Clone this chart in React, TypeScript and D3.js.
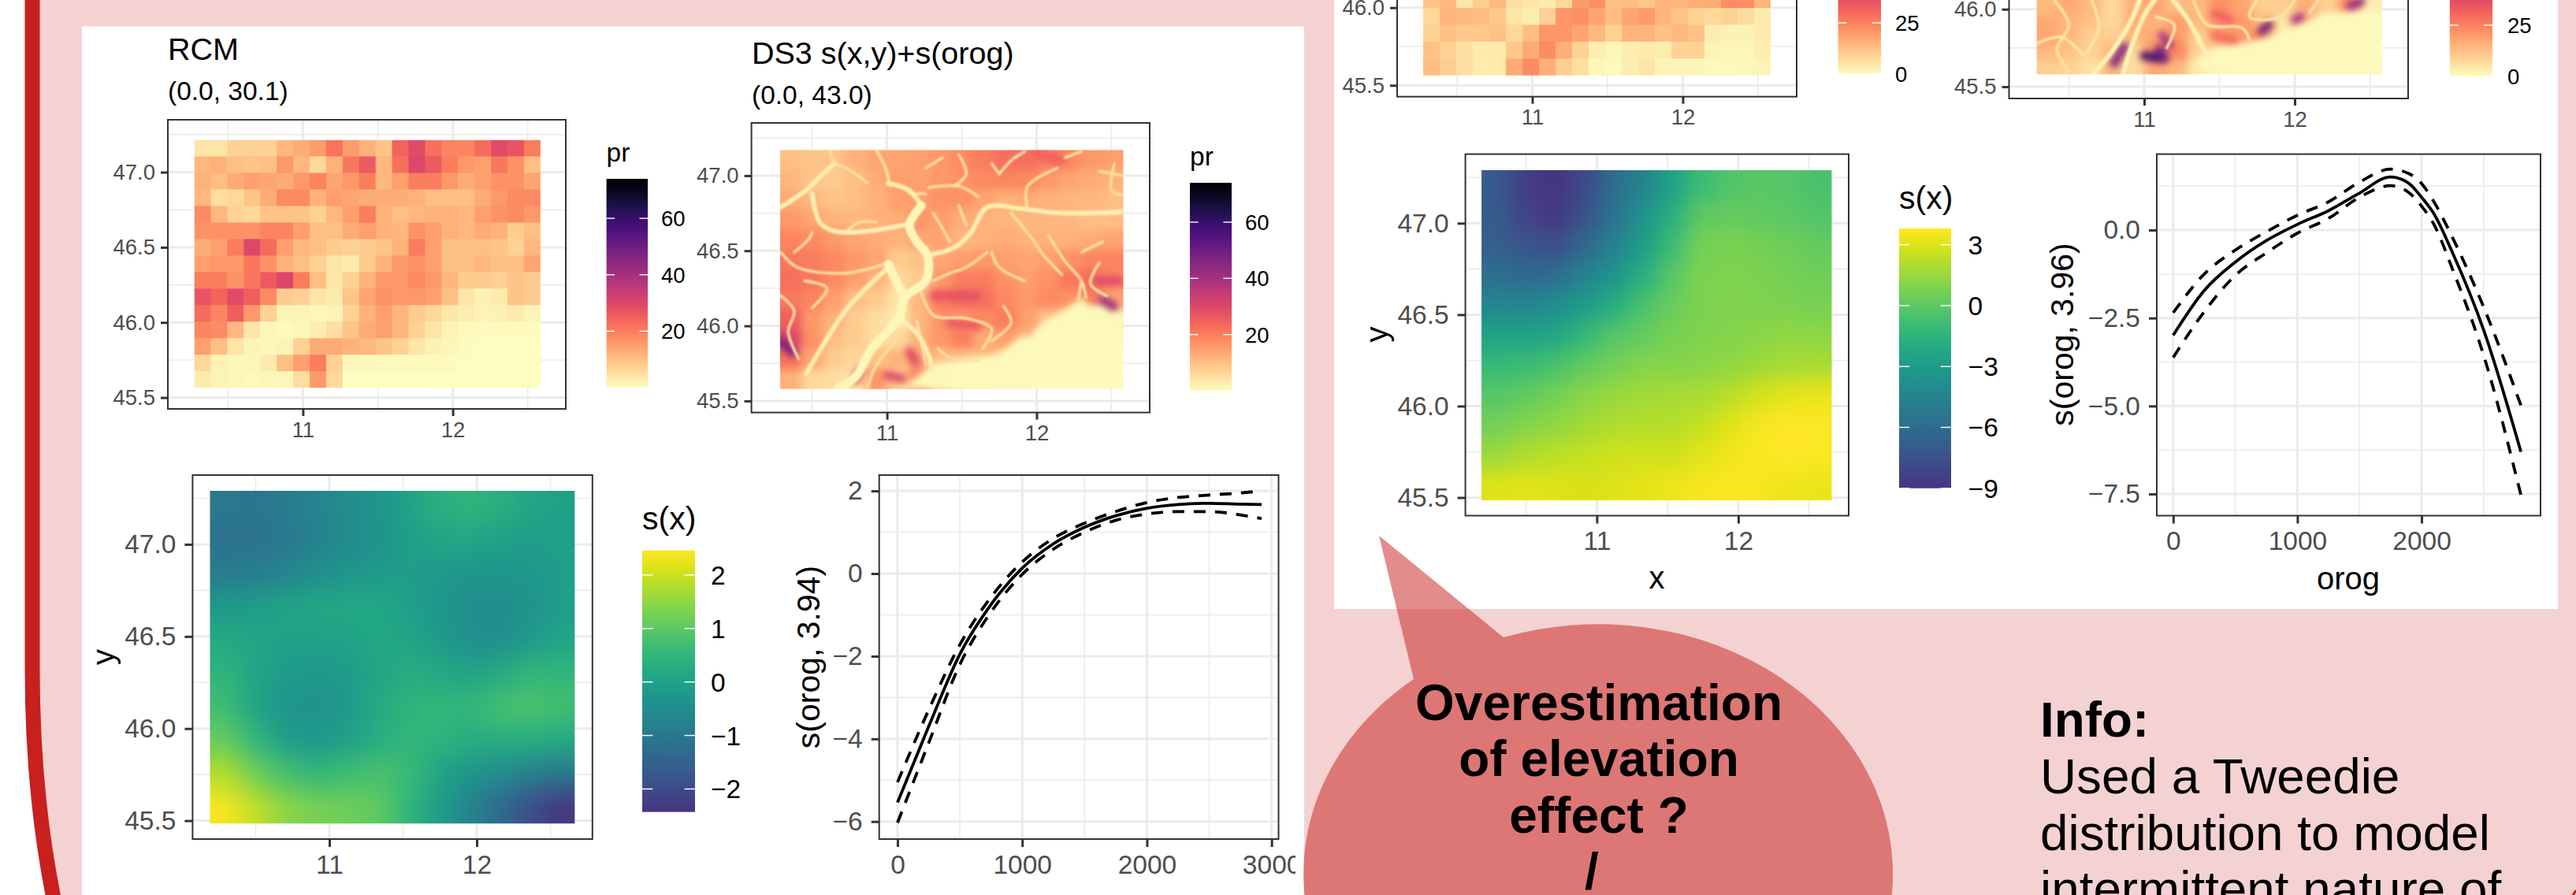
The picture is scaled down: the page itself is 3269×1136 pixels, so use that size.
import * as d3 from "d3";
import { useEffect, useRef } from "react";

const FONT = "'Liberation Sans', Arial, sans-serif";
const INK = "#4d4d4d";

// RCM precipitation cells, north to south, 21 columns
const rcmLeft = [
    [4, 4, 7, 7, 7, 11, 13, 15.5, 21.5, 15.5, 12, 9, 24, 29, 22, 19, 19, 23, 29, 27, 20],
    [11, 12, 10, 9, 10, 16, 11, 6, 12, 21, 26, 11, 22, 30, 26, 20, 16, 15, 21, 17, 10],
    [12, 10, 13, 15, 14, 13, 16, 19, 14, 16, 20, 11, 15, 20, 20, 16, 13, 15, 17, 17, 14],
    [11, 5, 6, 9, 13, 18, 18, 12, 15, 14, 13, 13, 13, 12, 10, 10, 10, 13, 16, 18, 18],
    [18, 11, 7, 6, 9, 9, 9, 7, 11, 15, 20, 12, 10, 11, 12, 12, 11, 15, 17, 18, 16],
    [17, 17, 17, 17, 19, 19, 15, 10, 10, 13, 15, 12, 11, 17, 15, 12, 11, 13, 12, 8, 10],
    [13, 15, 20, 30, 23, 15, 11, 10, 8, 7, 8, 9, 12, 20, 15, 10, 10, 10, 9, 7, 11],
    [15, 16, 16, 21, 17, 12, 10, 7, 4, 3, 8, 12, 16, 17, 15, 10, 10, 11, 10, 10, 14],
    [20, 20, 17, 21, 26, 30, 20, 10, 4, 7, 12, 16, 16, 18, 16, 11, 8, 8, 7, 9, 8],
    [27, 24, 29, 25, 18, 8, 7, 4, 3, 9, 14, 17, 16, 16, 15, 10, 4, 2, 3, 9, 8],
    [23, 19, 25, 16, 7, 1.5, 1.5, 1, 1.5, 7, 12, 15, 11, 8, 6, 3.5, 2.5, 1.5, 2, 3, 1.5],
    [19, 18, 11, 4, 1, 0.5, 1, 2.5, 5, 9, 13, 15, 11, 7, 4, 1.5, 0.8, 0.5, 0.5, 0.5, 0.5],
    [15, 10, 4, 1.5, 1, 1.5, 7, 13, 13, 12, 11, 9, 7, 4, 2, 1, 0.3, 0.2, 0.2, 0.2, 0.2],
    [6, 2, 1, 1, 3, 10, 15, 20, 7, 1, 1, 0.7, 0.5, 0.5, 0.3, 0.3, 0.2, 0.2, 0.2, 0.2, 0.2],
    [3, 1.5, 1, 0.5, 1, 1, 5, 16, 6, 0.2, 0.2, 0.2, 0.1, 0.1, 0.1, 0.1, 0.1, 0.1, 0.1, 0.1, 0.1],
];

// only the bottom rows of the top right RCM map are on the page
const rcmRight = [
    [12, 14, 5, 10, 14, 6, 5, 4, 8, 20, 22, 12, 13, 11, 15, 15, 16, 17, 23, 23, 15],
    [8, 15, 14, 13, 11, 5, 3, 9, 21, 22, 18, 13, 18, 20, 15, 12, 9, 8, 9, 7, 4],
    [9, 12, 11, 11, 12, 8, 13, 21, 21, 18, 14, 9, 15, 15, 12, 14, 12, 3, 2.5, 2.5, 4],
    [12, 9, 6, 4, 4, 11, 17, 23, 16, 9, 3, 1.5, 3, 4, 3.5, 9, 9, 2, 1.5, 1.5, 3],
    [13, 10, 6, 3.5, 4, 17, 23, 16, 10, 6, 1.5, 1, 3, 5, 2, 2, 2, 1, 1, 1.5, 2],
];

// DS3 maps, coarse read of the field between the valleys
const ds3Left = [
    [10, 9, 9, 12, 14, 14, 15, 16, 18, 20, 22, 22, 20, 18, 16, 15],
    [11, 9, 8, 10, 13, 15, 15, 16, 17, 18, 19, 18, 16, 14, 13, 12],
    [13, 11, 9, 10, 12, 15, 15, 17, 17, 14, 12, 13, 12, 11, 11, 10],
    [16, 14, 12, 11, 12, 13, 16, 15, 13, 12, 11, 11, 11, 11, 10, 10],
    [19, 18, 16, 14, 13, 12, 14, 14, 11, 12, 13, 12, 12, 12, 13, 14],
    [21, 20, 18, 16, 14, 8, 9, 14, 15, 16, 15, 14, 15, 17, 19, 19],
    [22, 21, 18, 15, 12, 6, 8, 16, 20, 20, 17, 15, 17, 21, 22, 19],
    [21, 19, 15, 10, 8, 4, 11, 20, 23, 22, 18, 16, 18, 17, 20, 14],
    [25, 16, 12, 8, 5, 3, 11, 17, 16, 18, 20, 15, 9, 7, 6, 3],
    [30, 17, 10, 8, 5, 6, 12, 16, 20, 13, 15, 12, 3, 2, 1, 0.5],
    [22, 14, 8, 6, 10, 12, 14, 10, 9, 12, 8, 1.5, 0.5, 0.3, 0.2, 0.2],
    [12, 6, 5, 4, 16, 8, 20, 8, 2, 1, 0.5, 0.3, 0.2, 0.2, 0.2, 0.2],
];

const ds3Right = [
    [14, 17, 14, 8, 15, 18, 13, 14, 22, 18, 10, 10, 16, 9, 22, 3],
    [17, 15, 12, 8, 16, 15, 20, 14, 20, 20, 14, 5, 12, 2, 2, 1],
    [18, 14, 10, 10, 14, 18, 20, 10, 18, 20, 24, 4, 1, 1, 1, 1],
    [14, 12, 9, 14, 8, 24, 24, 9, 5, 4, 2, 2, 2, 1, 1, 1],
    [10, 9, 6, 14, 7, 18, 14, 4, 2, 1, 1, 1, 1, 1, 1, 1],
];

const trunkValleys = [
    [[11.23, 46.8], [11.15, 46.67], [11.2, 46.56], [11.27, 46.47], [11.26, 46.3], [11.12, 46.19], [11.08, 46.05], [10.9, 45.85], [10.79, 45.66], [10.68, 45.59]],
    [[11.01, 46.41], [11.08, 46.26], [11.12, 46.19]],
];

const riverValleys = [
    [[10.5, 46.88], [10.55, 46.69], [10.65, 46.63], [10.87, 46.63], [11.15, 46.68]],
    [[11.27, 46.47], [11.45, 46.52], [11.56, 46.62], [11.67, 46.79], [11.89, 46.78], [12.17, 46.75], [12.58, 46.76]],
    [[11.23, 46.8], [11.15, 46.9], [11.01, 46.95]],
    [[10.29, 46.79], [10.37, 46.84], [10.48, 46.92], [10.57, 47.01], [10.65, 47.08]],
    [[10.46, 45.68], [10.73, 46.11], [11.01, 46.39]],
    [[11.08, 46.05], [11.2, 45.95], [11.28, 45.8], [11.3, 45.7]],
];

const branchValleys = [
    [[10.62, 47.17], [10.65, 47.08], [10.73, 47.05], [10.87, 46.95]],
    [[10.93, 47.17], [10.99, 47.05], [11.02, 46.93]],
    [[10.73, 46.63], [10.82, 46.69], [10.93, 46.69]],
    [[10.38, 46.49], [10.48, 46.58], [10.5, 46.62]],
    [[11.26, 46.88], [11.15, 46.88]],
    [[11.28, 46.92], [11.48, 46.93], [11.61, 46.86]],
    [[11.45, 46.93], [11.53, 47.01], [11.48, 47.14]],
    [[11.26, 47.05], [11.37, 47.12]],
    [[11.75, 47.01], [11.83, 47.1], [11.92, 47.16]],
    [[11.75, 47.01], [11.7, 47.08]],
    [[11.94, 46.77], [11.94, 46.93], [12.14, 47.05]],
    [[12.3, 47.16], [12.19, 47.12]],
    [[12.58, 47], [12.42, 47.03]],
    [[12.58, 46.87], [12.5, 46.9], [12.52, 47.08]],
    [[11.31, 46.75], [11.37, 46.65], [11.42, 46.56]],
    [[11.48, 46.8], [11.53, 46.67]],
    [[11.83, 46.75], [11.97, 46.58], [12.03, 46.49], [12.17, 46.34]],
    [[12.08, 46.6], [12.19, 46.43], [12.3, 46.3], [12.33, 46.19]],
    [[12.3, 46.49], [12.44, 46.56]],
    [[11.67, 46.49], [11.53, 46.39], [11.42, 46.35], [11.31, 46.3]],
    [[11.92, 46.3], [11.75, 46.39], [11.7, 46.49]],
    [[11.23, 46.22], [11.31, 46.07], [11.53, 46.05], [11.7, 45.98], [11.64, 45.85]],
    [[11.78, 46.13], [11.83, 46.02], [11.7, 45.9]],
    [[10.29, 46.49], [10.4, 46.39], [10.71, 46.35], [10.98, 46.41]],
    [[10.29, 46.2], [10.38, 46.1], [10.34, 45.96], [10.41, 45.78]],
    [[10.98, 45.92], [11.09, 46.05]],
    [[11.26, 45.74], [11.2, 46.03]],
    [[10.87, 45.59], [10.93, 45.74], [11.06, 45.9]],
    [[11.34, 45.85], [11.42, 45.79], [11.61, 45.77]],
    [[12.3, 46.3], [12.28, 46.18]],
    [[10.5, 46.12], [10.6, 46.25], [10.45, 46.3]],
    [[12.42, 46.42], [12.36, 46.28], [12.47, 46.2]],
];

const plainLeft = [[12.58, 46.12], [12.5, 46.06], [12.44, 46.14], [12.36, 46.13], [12.3, 46.19], [12.17, 46.09], [12.05, 46.03], [11.97, 45.94], [11.88, 45.92], [11.75, 45.81], [11.6, 45.8], [11.48, 45.77], [11.31, 45.75], [11.2, 45.66], [11.09, 45.58], [12.58, 45.58]];

// segments that carry more rain than the field: lon, lat, lon, lat, value
const ridgesLeft = [
    [10.29, 45.9, 10.37, 45.82, 48],
    [11.31, 46.2, 11.6, 46.2, 28],
    [11.42, 46.02, 11.6, 46, 27],
    [12.41, 46.3, 12.55, 46.3, 30],
    [12.44, 46.17, 12.52, 46.13, 42],
    [11, 45.67, 11.1, 45.65, 30],
    [10.82, 45.7, 10.79, 45.64, 30],
    [11.15, 45.83, 11.19, 45.76, 30],
    [12, 47.15, 12.17, 47.1, 25],
];

const valleysRight = [
    [[10.86, 45.58], [10.91, 45.74], [11, 45.96], [11.07, 46.06]],
    [[10.66, 45.58], [10.78, 45.72], [10.91, 45.92], [10.97, 46.06]],
    [[11.19, 46.06], [11.3, 45.92], [11.39, 45.75], [11.47, 45.6]],
];

const branchesRight = [
    [[10.29, 45.78], [10.45, 45.82], [10.6, 45.7]],
    [[10.4, 46.06], [10.5, 45.9], [10.42, 45.74], [10.5, 45.6]],
    [[10.65, 46.06], [10.7, 45.88], [10.62, 45.72]],
    [[11.08, 45.95], [11.2, 45.9], [11.15, 45.75]],
    [[11.33, 46.05], [11.42, 45.9], [11.65, 45.88], [11.7, 45.8]],
    [[11.75, 46.06], [11.7, 45.95], [11.9, 45.95], [12.0, 46.06]],
    [[12.16, 46.06], [12.1, 45.98]],
];

const plainRight = [[12.58, 45.99], [12.41, 45.99], [12.19, 45.96], [11.88, 45.84], [11.69, 45.78], [11.47, 45.74], [11.33, 45.67], [11.44, 45.58], [12.58, 45.58]];

const ridgesRight = [
    [11, 45.7, 11.12, 45.68, 76],
    [11.1, 45.74, 11.14, 45.68, 64],
    [10.8, 45.65, 10.87, 45.76, 60],
    [11.12, 45.83, 11.17, 45.77, 50],
    [11.78, 45.86, 11.83, 45.9, 62],
    [12, 45.93, 12.04, 45.95, 50],
    [12.37, 46.02, 12.44, 46.05, 55],
    [11.47, 45.97, 11.57, 45.93, 32],
    [11.47, 45.83, 11.6, 45.8, 30],
];

// s(x) smooths
const sxLeft = [
    [-1, -1.05, -0.9, -0.7, -0.5, -0.3, 0, 0.35, 0.45, 0.35, 0.1, 0],
    [-1.15, -1.1, -1, -0.75, -0.55, -0.35, -0.1, 0.1, 0.1, 0, -0.1, -0.1],
    [-0.9, -0.85, -0.65, -0.45, -0.3, -0.15, -0.1, -0.2, -0.3, -0.3, -0.25, -0.1],
    [-0.2, -0.1, 0.05, 0.15, 0.15, 0.15, 0, -0.25, -0.45, -0.5, -0.35, -0.1],
    [0.2, 0.1, 0, -0.05, 0.05, 0.15, 0.1, -0.15, -0.4, -0.45, -0.15, 0.1],
    [0.45, 0.1, -0.15, -0.2, -0.15, 0.1, 0.3, 0.2, 0.05, 0.2, 0.5, 0.5],
    [0.7, 0.05, -0.3, -0.35, -0.2, 0.2, 0.45, 0.5, 0.5, 0.75, 0.85, 0.7],
    [1.1, 0.5, -0.1, -0.25, -0.05, 0.3, 0.5, 0.45, 0.3, 0.3, 0.3, 0.2],
    [1.8, 1.2, 0.75, 0.5, 0.65, 0.8, 0.6, 0.1, -0.3, -0.5, -0.8, -1],
    [2.4, 1.9, 1.45, 1.25, 1.2, 1.05, 0.5, -0.1, -0.7, -1.3, -1.9, -2.35],
];

const sxRight = [
    [-7, -8.5, -9, -8, -6, -4.5, -2.7, -1, -0.3, -0.1, -0.2, -0.5],
    [-7, -8.2, -8.8, -7.5, -5.5, -3.7, -1.8, 0, 0.2, 0.1, 0, -0.3],
    [-6.7, -7.3, -7.7, -6.3, -4.7, -3, -1, 0.6, 0.8, 0.6, 0.5, 0.2],
    [-5.8, -6.2, -6, -4.6, -3.5, -1.9, -0.2, 0.8, 0.9, 0.8, 0.6, 0.5],
    [-4.3, -4.4, -3.9, -3, -2, -0.5, 0.3, 0.8, 0.9, 0.9, 0.8, 0.7],
    [-2.6, -2.6, -2.4, -1.3, -0.2, 0.2, 0.7, 0.9, 1, 1.1, 1.3, 1.2],
    [-1.1, -1, -0.6, 0.1, 0.6, 1, 1, 1.1, 1.3, 1.6, 1.8, 1.9],
    [-0.2, 0.1, 0.6, 1.1, 1.5, 1.7, 1.8, 1.9, 2.2, 2.8, 3.2, 3.3],
    [0.6, 1, 1.3, 1.7, 2, 2.1, 2.1, 2.5, 3.1, 3.6, 3.8, 3.8],
    [1.6, 2, 2.3, 2.5, 2.7, 2.7, 2.7, 3.1, 3.5, 3.7, 3.8, 3.7],
    [3, 3.1, 3, 2.9, 3, 3.2, 3.4, 3.6, 3.7, 3.6, 3.4, 3.3],
];

// s(orog) curves: elevation, smooth, upper and lower band
const orogLeft = [0, 250, 500, 750, 1000, 1250, 1500, 1750, 2000, 2250, 2500, 2750, 2920];
const fitLeft = [-5.54, -3.7, -1.95, -0.75, 0.13, 0.72, 1.12, 1.4, 1.58, 1.67, 1.7, 1.68, 1.67];
const upperLeft = [-5.05, -3.3, -1.72, -0.57, 0.28, 0.85, 1.22, 1.5, 1.72, 1.84, 1.9, 1.95, 2];
const lowerLeft = [-6.03, -4.1, -2.2, -0.93, -0.02, 0.59, 1, 1.29, 1.44, 1.5, 1.5, 1.42, 1.33];

const orogRight = [0, 250, 500, 750, 1000, 1250, 1500, 1750, 1900, 2000, 2100, 2250, 2500, 2800];
const fitRight = [-2.99, -1.72, -0.91, -0.3, 0.16, 0.55, 1.05, 1.51, 1.32, 0.93, 0.46, -0.65, -2.84, -6.3];
const upperRight = [-2.35, -1.25, -0.57, -0.05, 0.42, 0.8, 1.36, 1.73, 1.6, 1.32, 0.8, -0.22, -2.19, -4.98];
const lowerRight = [-3.62, -2.32, -1.29, -0.65, -0.09, 0.33, 0.93, 1.26, 1.06, 0.68, 0.16, -1.12, -3.56, -7.53];

const lonMajor = [11, 12];
const lonMinor = [10.5, 11.5, 12.5];
const latMajor = [45.5, 46, 46.5, 47];
const latMinor = [45.75, 46.25, 46.75, 47.25];
const latMajorCut = [45.5, 46];
const latMinorCut = [45.75];

const bubbleLines = ["Overestimation", "of elevation", "effect ?", "/"];
const infoLines = ["Used a Tweedie", "distribution to model", "intermittent nature of"];

const magma = (max) => (v) => d3.interpolateMagma(1 - Math.min(v, max) / max);
const viridis = (lo, hi) => (v) => d3.interpolateViridis(0.15 + 0.85 * (v - lo) / (hi - lo));

function Axis({ orient, scale, ticks, format, size, pad, at, fontSize, clip }) {
    const ref = useRef(null);
    useEffect(() => {
        const axis = (orient === "left" ? d3.axisLeft(scale) : d3.axisBottom(scale))
            .tickValues(ticks)
            .tickFormat(format)
            .tickSize(size)
            .tickPadding(pad);
        const g = d3.select(ref.current).call(axis);
        g.attr("font-size", fontSize).attr("font-family", FONT);
        g.select(".domain").remove();
        g.selectAll(".tick line").attr("stroke", "#333").attr("stroke-width", 3);
        g.selectAll(".tick text").attr("fill", INK);
    }, [orient, scale, ticks, format, size, pad, fontSize]);
    const transform = orient === "left" ? `translate(${at},0)` : `translate(0,${at})`;
    return (
        <g clipPath={clip ? `url(#${clip})` : undefined}>
            <g ref={ref} transform={transform} />
        </g>
    );
}

function Panel({ x, y, xMajor, xMinor, yMajor, yMinor, xFormat, yFormat, fontSize, ySize = 9, yPad = 6, xSize = 9, xPad = 8, xClip, children }) {
    const [x0, x1] = x.range();
    const [y0, y1] = y.range();
    return (
        <g>
            {xMinor.map(v => <line key={v} x1={x(v)} x2={x(v)} y1={y0} y2={y1} stroke="#ebebeb" strokeWidth={1.6} />)}
            {yMinor.map(v => <line key={v} x1={x0} x2={x1} y1={y(v)} y2={y(v)} stroke="#ebebeb" strokeWidth={1.6} />)}
            {xMajor.map(v => <line key={v} x1={x(v)} x2={x(v)} y1={y0} y2={y1} stroke="#ebebeb" strokeWidth={3} />)}
            {yMajor.map(v => <line key={v} x1={x0} x2={x1} y1={y(v)} y2={y(v)} stroke="#ebebeb" strokeWidth={3} />)}
            {children}
            <rect x={x0} y={y1} width={x1 - x0} height={y0 - y1} fill="none" stroke="#333" strokeWidth={2} />
            <Axis orient="left" scale={y} ticks={yMajor} format={yFormat} size={ySize} pad={yPad} at={x0} fontSize={fontSize} />
            <Axis orient="bottom" scale={x} ticks={xMajor} format={xFormat} size={xSize} pad={xPad} at={y0} fontSize={fontSize} clip={xClip} />
        </g>
    );
}

// cell grid; when blurred the outer cells run past the clip so the edges stay solid
function Raster({ id, matrix, lon, lat, x, y, color, blur = 0, children }) {
    const rows = matrix.length;
    const cols = matrix[0].length;
    const lonEdge = d3.scaleLinear().domain([0, cols]).range(lon);
    const latEdge = d3.scaleLinear().domain([0, rows]).range(lat);
    const bleed = blur ? 40 : 0;
    const left = x(lon[0]);
    const top = y(lat[0]);
    return (
        <g clipPath={`url(#${id}-clip)`}>
            <defs>
                <clipPath id={`${id}-clip`}>
                    <rect x={left} y={top} width={x(lon[1]) - left} height={y(lat[1]) - top} />
                </clipPath>
                <filter id={`${id}-blur`} x="-20%" y="-20%" width="140%" height="140%" colorInterpolationFilters="sRGB">
                    <feGaussianBlur stdDeviation={blur} />
                </filter>
            </defs>
            <g filter={blur ? `url(#${id}-blur)` : undefined}>
                {matrix.map((row, r) => row.map((v, c) => {
                    const a = x(lonEdge(c)) - (c === 0 ? bleed : 0);
                    const b = x(lonEdge(c + 1)) + (c === cols - 1 ? bleed : 0);
                    const t = y(latEdge(r)) - (r === 0 ? bleed : 0);
                    const u = y(latEdge(r + 1)) + (r === rows - 1 ? bleed : 0);
                    return <rect key={`${r}-${c}`} x={a} y={t} width={b - a + 0.6} height={u - t + 0.6} fill={color(v)} />;
                }))}
            </g>
            {children}
        </g>
    );
}

function Terrain({ id, matrix, lon, lat, x, y, color, blur, plain, ridges, trunks, rivers, branches }) {
    const path = d3.line().x(d => x(d[0])).y(d => y(d[1])).curve(d3.curveCatmullRom.alpha(0.5));
    const outline = d3.line().x(d => x(d[0])).y(d => y(d[1]));
    return (
        <Raster id={id} matrix={matrix} lon={lon} lat={lat} x={x} y={y} color={color} blur={blur}>
            <defs>
                <filter id={`${id}-soft`} filterUnits="userSpaceOnUse" x="900" y="-300" width="2300" height="900" colorInterpolationFilters="sRGB">
                    <feGaussianBlur stdDeviation={4} />
                </filter>
                <filter id={`${id}-fine`} filterUnits="userSpaceOnUse" x="900" y="-300" width="2300" height="900" colorInterpolationFilters="sRGB">
                    <feGaussianBlur stdDeviation={1.2} />
                </filter>
            </defs>
            <g filter={`url(#${id}-soft)`}>
                {ridges.map((d, i) => <line key={i} x1={x(d[0])} y1={y(d[1])} x2={x(d[2])} y2={y(d[3])} stroke={color(d[4])} strokeWidth={11} strokeLinecap="round" />)}
                <path d={outline(plain) + "Z"} fill={color(0.8)} />
            </g>
            <g filter={`url(#${id}-fine)`} fill="none" strokeLinecap="round" strokeLinejoin="round">
                {branches.map((d, i) => <path key={i} d={path(d)} strokeWidth={3.6} stroke={color(5)} />)}
                {rivers.map((d, i) => <path key={i} d={path(d)} strokeWidth={6} stroke={color(2.5)} />)}
                {trunks.map((d, i) => <path key={i} d={path(d)} strokeWidth={11} stroke={color(1)} />)}
            </g>
        </Raster>
    );
}

function Legend({ id, title, x, width, top, bottom, domain, ticks, color, fontSize, titleSize, titleY, labelX }) {
    const v = d3.scaleLinear().domain(domain).range([bottom, top]);
    const stops = d3.range(0, 1.0001, 0.04);
    const fmt = d3.format("d");
    return (
        <g fontFamily={FONT}>
            <defs>
                <linearGradient id={id} x1="0" y1="1" x2="0" y2="0">
                    {stops.map(s => <stop key={s} offset={s} stopColor={color(domain[0] + s * (domain[1] - domain[0]))} />)}
                </linearGradient>
            </defs>
            {title && <text x={x} y={titleY} fontSize={titleSize}>{title}</text>}
            <rect x={x} y={top} width={width} height={bottom - top} fill={`url(#${id})`} />
            {ticks.map(t => (
                <g key={t}>
                    <line x1={x} x2={x + width / 5} y1={v(t)} y2={v(t)} stroke="#fff" strokeWidth={1.4} />
                    <line x1={x + width * 0.8} x2={x + width} y1={v(t)} y2={v(t)} stroke="#fff" strokeWidth={1.4} />
                    <text x={labelX} y={v(t)} dy="0.36em" fontSize={fontSize}>{fmt(t)}</text>
                </g>
            ))}
        </g>
    );
}

function Curve({ x, y, orog, fit, upper, lower }) {
    const line = (vals) => d3.line()
        .x((_, i) => x(orog[i]))
        .y(d => y(d))
        .curve(d3.curveMonotoneX)(vals);
    return (
        <g fill="none" stroke="#000">
            <path d={line(upper)} strokeWidth={3.8} strokeDasharray="15 12" />
            <path d={line(lower)} strokeWidth={3.8} strokeDasharray="15 12" />
            <path d={line(fit)} strokeWidth={3.8} />
        </g>
    );
}

function SideTitle({ x, y, size, children }) {
    return <text transform={`translate(${x},${y}) rotate(-90)`} textAnchor="middle" fontFamily={FONT} fontSize={size}>{children}</text>;
}

export default function App() {
    const f1 = d3.format(".1f");
    const f0 = d3.format("d");

    // top left maps
    const ax = d3.scaleLinear().domain([10.099, 12.754]).range([213, 718]);
    const ay = d3.scaleLinear().domain([45.4245, 47.349]).range([519, 152]);
    const bx = d3.scaleLinear().domain([10.094, 12.756]).range([953.6, 1459]);
    const by = d3.scaleLinear().domain([45.423, 47.351]).range([523.6, 156]);
    // bottom left effects
    const cx = d3.scaleLinear().domain([10.072, 12.785]).range([244.4, 751.8]);
    const cy = d3.scaleLinear().domain([45.4, 47.376]).range([1065, 603]);
    const dx = d3.scaleLinear().domain([-147, 3056]).range([1115.7, 1622.5]);
    const dy = d3.scaleLinear().domain([-6.425, 2.383]).range([1065, 603]);
    // top right effects
    const ex = d3.scaleLinear().domain([10.071, 12.78]).range([1859.6, 2346]);
    const ey = d3.scaleLinear().domain([45.401, 47.378]).range([654.5, 195.6]);
    const fx = d3.scaleLinear().domain([-132, 2958]).range([2737, 3224]);
    const fy = d3.scaleLinear().domain([-8.115, 2.158]).range([654.5, 195.6]);
    // top right maps, cut by the page edge
    const gx = d3.scaleLinear().domain([10.102, 12.757]).range([1773, 2280]);
    const gy = d3.scaleLinear().domain([45.427, 47.288]).range([122.7, -244.3]);
    const hx = d3.scaleLinear().domain([10.102, 12.754]).range([2549.5, 3056]);
    const hy = d3.scaleLinear().domain([45.424, 47.29]).range([125, -242]);

    const magma74 = magma(74);
    const magma95 = magma(95);
    const vLeft = viridis(-2.43, 2.46);
    const vRight = viridis(-9, 3.8);

    return (
        <>
            <style>{"html,body{margin:0;padding:0;overflow:hidden;background:#fff}"}</style>
            <svg width={3269} height={1136} style={{ display: "block" }} fontFamily={FONT}>
                <defs>
                    <clipPath id="panelD-labels"><rect x={1100} y={1060} width={544} height={80} /></clipPath>
                </defs>

                <path d="M41,0 V850 C41,950 50,1050 68,1140 H3269 V0 Z" fill="#f4d2d2" />
                <path d="M41,0 V850 C41,950 50,1050 68,1140" fill="none" stroke="#c8201e" strokeWidth={19} />
                <path d="M3269,1130 L3264,1138" fill="none" stroke="#c8201e" strokeWidth={3} />
                <rect x={104} y={33.5} width={1551} height={1103} fill="#fff" />
                <rect x={1693} y={0} width={1553} height={773} fill="#fff" />

                <text x={213} y={76} fontSize={39.5}>RCM</text>
                <text x={213} y={127} fontSize={33.5}>(0.0, 30.1)</text>
                <Panel x={ax} y={ay} xMajor={lonMajor} xMinor={lonMinor} yMajor={latMajor} yMinor={latMinor} xFormat={f0} yFormat={f1} fontSize={27.5} ySize={9} yPad={7} xSize={9} xPad={7}>
                    <Raster id="rcmA" matrix={rcmLeft} lon={[10.275, 12.585]} lat={[47.215, 45.565]} x={ax} y={ay} color={magma74} />
                </Panel>
                <Legend id="legA" title="pr" x={769.6} width={52.4} top={227} bottom={492} domain={[0, 74]} ticks={[20, 40, 60]} color={magma74} fontSize={27.5} titleSize={33.5} titleY={205} labelX={839} />

                <text x={954} y={81} fontSize={39.5}>DS3 s(x,y)+s(orog)</text>
                <text x={954} y={132} fontSize={33.5}>(0.0, 43.0)</text>
                <Panel x={bx} y={by} xMajor={lonMajor} xMinor={lonMinor} yMajor={latMajor} yMinor={latMinor} xFormat={f0} yFormat={f1} fontSize={27.5} ySize={9} yPad={7} xSize={9} xPad={7}>
                    <Terrain id="ds3B" matrix={ds3Left} lon={[10.286, 12.58]} lat={[47.17, 45.58]} x={bx} y={by} color={magma74} blur={6} plain={plainLeft} ridges={ridgesLeft} trunks={trunkValleys} rivers={riverValleys} branches={branchValleys} />
                </Panel>
                <Legend id="legB" title="pr" x={1510} width={53} top={232} bottom={496} domain={[0, 74]} ticks={[20, 40, 60]} color={magma74} fontSize={27.5} titleSize={33.5} titleY={210} labelX={1580} />

                <Panel x={cx} y={cy} xMajor={lonMajor} xMinor={lonMinor} yMajor={latMajor} yMinor={latMinor} xFormat={f0} yFormat={f1} fontSize={33.5} ySize={10} yPad={11} xSize={10} xPad={10}>
                    <Raster id="sxC" matrix={sxLeft} lon={[10.19, 12.665]} lat={[47.29, 45.485]} x={cx} y={cy} color={vLeft} blur={16} />
                </Panel>
                <SideTitle x={145} y={834} size={40}>y</SideTitle>
                <text x={498.6} y={1158} fontSize={40} textAnchor="middle">x</text>
                <Legend id="legC" title="s(x)" x={815} width={67} top={698.6} bottom={1030.6} domain={[-2.43, 2.46]} ticks={[-2, -1, 0, 1, 2]} color={vLeft} fontSize={33.5} titleSize={41} titleY={672} labelX={902} />

                <Panel x={dx} y={dy} xMajor={[0, 1000, 2000, 3000]} xMinor={[500, 1500, 2500]} yMajor={[-6, -4, -2, 0, 2]} yMinor={[-5, -3, -1, 1]} xFormat={f0} yFormat={f0} fontSize={33.5} ySize={10} yPad={11} xSize={10} xPad={10} xClip="panelD-labels">
                    <Curve x={dx} y={dy} orog={orogLeft} fit={fitLeft} upper={upperLeft} lower={lowerLeft} />
                </Panel>
                <SideTitle x={1040} y={834} size={41}>s(orog, 3.94)</SideTitle>
                <text x={1370} y={1158} fontSize={40} textAnchor="middle">orog</text>

                <Panel x={gx} y={gy} xMajor={lonMajor} xMinor={lonMinor} yMajor={latMajorCut} yMinor={latMinorCut} xFormat={f0} yFormat={f1} fontSize={27.5} ySize={9} yPad={7} xSize={9} xPad={7}>
                    <Raster id="rcmG" matrix={rcmRight} lon={[10.275, 12.585]} lat={[46.1065, 45.564]} x={gx} y={gy} color={magma95} />
                </Panel>
                <Legend id="legG" x={2332.6} width={54.4} top={-153} bottom={94} domain={[0, 95]} ticks={[0, 25]} color={magma95} fontSize={27.5} labelX={2405} />

                <Panel x={hx} y={hy} xMajor={lonMajor} xMinor={lonMinor} yMajor={latMajorCut} yMinor={latMinorCut} xFormat={f0} yFormat={f1} fontSize={27.5} ySize={9} yPad={7} xSize={9} xPad={7}>
                    <Terrain id="ds3H" matrix={ds3Right} lon={[10.286, 12.58]} lat={[46.06, 45.58]} x={hx} y={hy} color={magma95} blur={6} plain={plainRight} ridges={ridgesRight} trunks={[]} rivers={valleysRight} branches={branchesRight} />
                </Panel>
                <Legend id="legH" x={3108.8} width={54.2} top={-150} bottom={97} domain={[0, 95]} ticks={[0, 25]} color={magma95} fontSize={27.5} labelX={3182} />

                <Panel x={ex} y={ey} xMajor={lonMajor} xMinor={lonMinor} yMajor={latMajor} yMinor={latMinor} xFormat={f0} yFormat={f1} fontSize={33.5} ySize={10} yPad={11} xSize={10} xPad={10}>
                    <Raster id="sxE" matrix={sxRight} lon={[10.185, 12.66]} lat={[47.29, 45.485]} x={ex} y={ey} color={vRight} blur={13} />
                </Panel>
                <SideTitle x={1760.6} y={424.5} size={40}>y</SideTitle>
                <text x={2102.5} y={747} fontSize={40} textAnchor="middle">x</text>
                <Legend id="legE" title="s(x)" x={2410} width={66} top={290} bottom={619.7} domain={[-9, 3.8]} ticks={[-9, -6, -3, 0, 3]} color={vRight} fontSize={33.5} titleSize={41} titleY={265} labelX={2497.6} />

                <Panel x={fx} y={fy} xMajor={[0, 1000, 2000]} xMinor={[500, 1500, 2500]} yMajor={[-7.5, -5, -2.5, 0]} yMinor={[-6.25, -3.75, -1.25, 1.25]} xFormat={f0} yFormat={f1} fontSize={33.5} ySize={10} yPad={11} xSize={10} xPad={10}>
                    <Curve x={fx} y={fy} orog={orogRight} fit={fitRight} upper={upperRight} lower={lowerRight} />
                </Panel>
                <SideTitle x={2631} y={424.5} size={41}>s(orog, 3.96)</SideTitle>
                <text x={2980} y={748} fontSize={40} textAnchor="middle">orog</text>

                <path d="M1908,809 L1750,680 L1794,862 A374,317 0 1 0 1908,809 Z" fill="#c6201e" fillOpacity={0.51} />
                <g fontSize={64} fontWeight="bold" textAnchor="middle">
                    {bubbleLines.map((d, i) => <text key={d} x={d === "/" ? 2020 : 2029} y={914 + i * 71.3}>{d}</text>)}
                </g>
                <g fontSize={63.8}>
                    <text x={2589} y={935} fontWeight="bold">Info:</text>
                    {infoLines.map((d, i) => <text key={d} x={2589} y={1007 + i * 71.5}>{d}</text>)}
                </g>
            </svg>
        </>
    );
}
